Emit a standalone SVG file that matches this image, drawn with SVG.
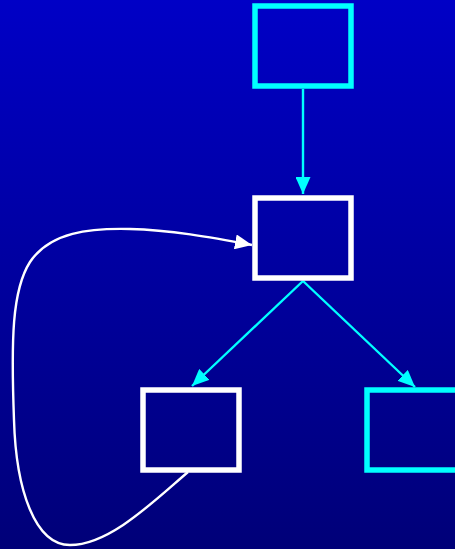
<svg xmlns="http://www.w3.org/2000/svg" width="455" height="549" viewBox="0 0 455 549">
<defs>
<linearGradient id="bg" x1="0" y1="0" x2="0" y2="1">
<stop offset="0" stop-color="#0000C6"/>
<stop offset="1" stop-color="#000078"/>
</linearGradient>
<marker id="ac" viewBox="0 0 17 15" refX="17" refY="7.5" markerWidth="17" markerHeight="15" markerUnits="userSpaceOnUse" orient="auto">
<path d="M0,0 L17,7.5 L0,15 Z" fill="#00FFFF"/>
</marker>
<marker id="aw" viewBox="0 0 17 15" refX="17" refY="7.5" markerWidth="17" markerHeight="15" markerUnits="userSpaceOnUse" orient="auto">
<path d="M0,0 L17,7.5 L0,15 Z" fill="#FFFFFF"/>
</marker>
</defs>
<style>
.box{fill:none;stroke-width:5.5}
.cy{stroke:#00FFFF}
.wh{stroke:#FFFFFF}
.ec{fill:none;stroke:#00FFFF;stroke-width:2.4}
.ew{fill:none;stroke:#FFFFFF;stroke-width:2.4}
</style>
<rect width="455" height="549" fill="url(#bg)"/>
<g id="edges">
<path class="ec" d="M303,89 L303,194" marker-end="url(#ac)"/>
<path class="ec" d="M303,281 L192,386" marker-end="url(#ac)"/>
<path class="ec" d="M303,281 L415,387" marker-end="url(#ac)"/>
<path class="ew" d="M188,472 C155,500 110,545 70,545 C35,545 16,490 14,420 C11,340 12,290 30,262 C50,232 90,228 130,229 C170,230 210,237 252,245" marker-end="url(#aw)"/>
</g>
<g id="n1"><rect class="box cy" x="255" y="6" width="96" height="80"/></g>
<g id="n2"><rect class="box wh" x="255" y="198" width="96" height="80"/></g>
<g id="n3"><rect class="box wh" x="143" y="390" width="96" height="80"/></g>
<g id="n4"><rect class="box cy" x="367" y="390" width="96" height="80"/></g>
</svg>
